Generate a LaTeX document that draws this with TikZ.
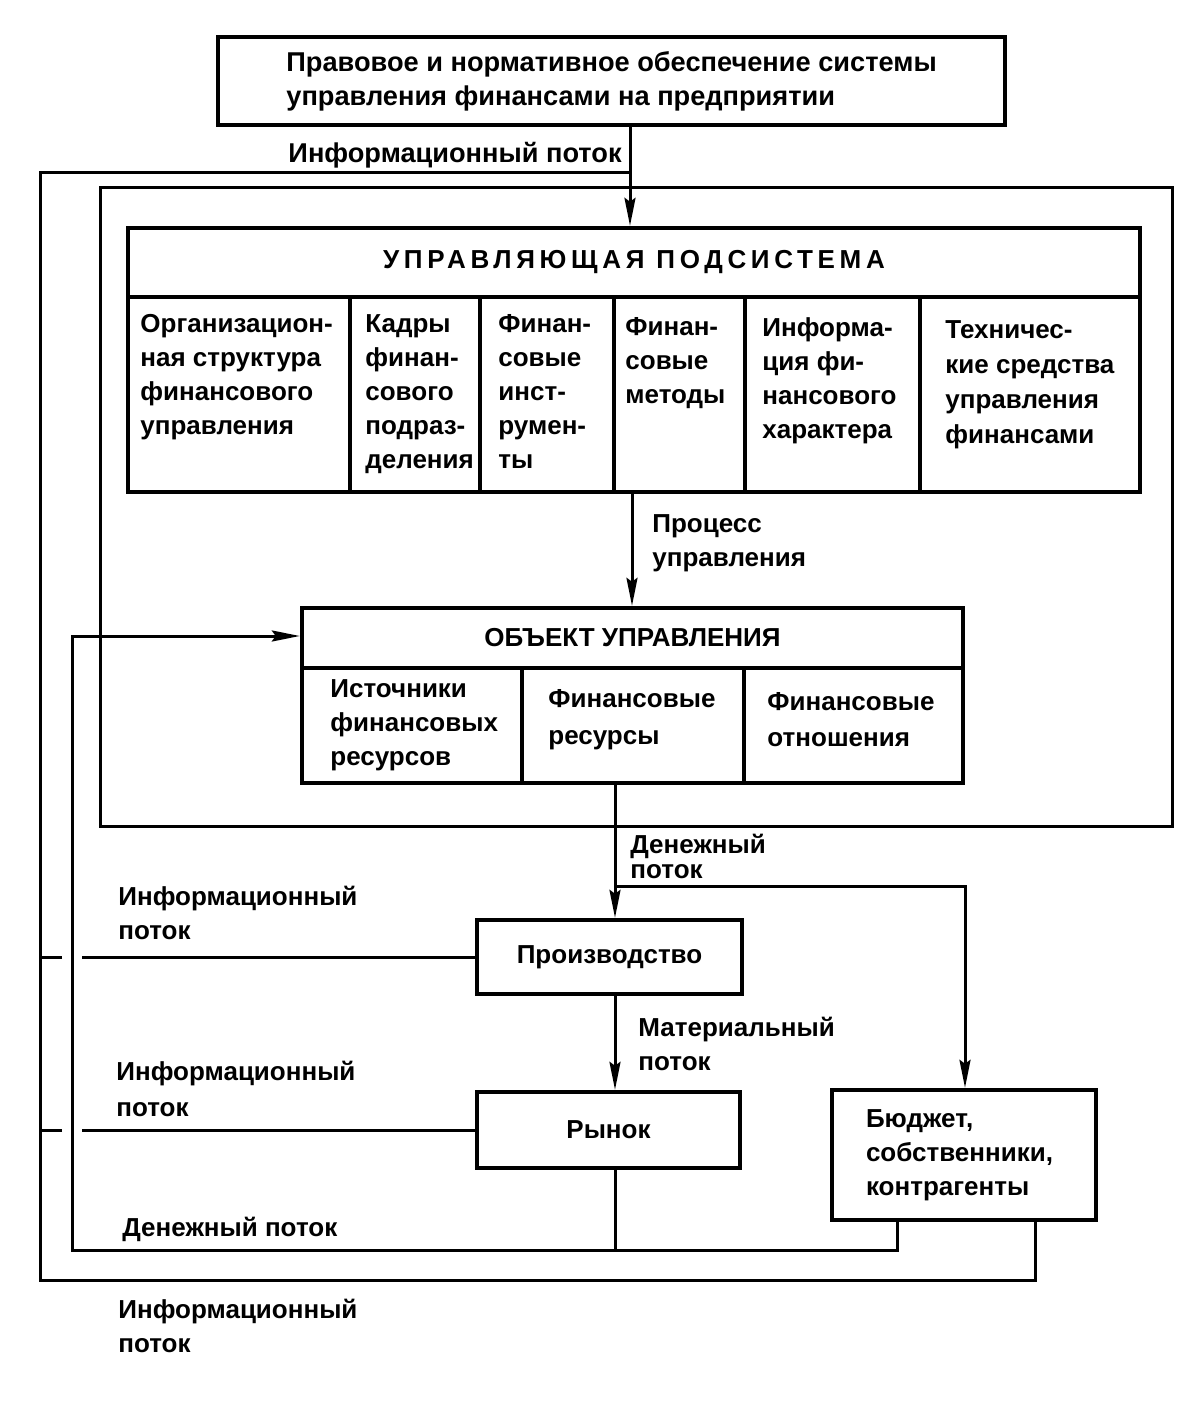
\documentclass[tikz,border=0pt]{standalone}
\usepackage{fontspec}
\setmainfont{Liberation Sans}
\usetikzlibrary{arrows.meta}
\begin{document}
\begin{tikzpicture}[x=0.5pt,y=-0.5pt,
  every node/.style={font=\bfseries\fontsize{13pt}{17pt}\selectfont},
  bx/.style={draw, line width=2.2pt, inner sep=0pt},
  txt/.style={inner sep=0pt, align=left, anchor=north west},
  tight/.style={font=\bfseries\fontsize{13pt}{12.5pt}\selectfont},
  ln/.style={line width=1.5pt},
  arr/.style={line width=1.5pt, -{Stealth[length=14pt,width=5.5pt,inset=2pt]}},
]
\useasboundingbox[fill=white] (0,0) rectangle (1194,1402);

% top box
\node[bx, minimum width={(1005-218)*0.5pt}, minimum height={(125-37)*0.5pt}, align=left,
  font=\bfseries\fontsize{13.6pt}{17pt}\selectfont]
  (top) at ({(218+1005)/2},{(37+125)/2})
  {Правовое и нормативное обеспечение системы\\управления финансами на предприятии};

% inner frame
\node[draw, line width=1.5pt, inner sep=0pt, minimum width={(1172-100)*0.5pt}, minimum height={(826-187)*0.5pt}]
  (frame) at ({(100+1172)/2},{(187+826)/2}) {};

% control subsystem
\node[bx, minimum width={(1140-128)*0.5pt}, minimum height={(297-228)*0.5pt},
  font=\bfseries\fontsize{13pt}{17pt}\selectfont\addfontfeature{LetterSpace=18}]
  (uhead) at ({(128+1140)/2},{(228+297)/2}) {УПРАВЛЯЮЩАЯ ПОДСИСТЕМА};
\node[bx, minimum width={(350-128)*0.5pt}, minimum height={(492-297)*0.5pt}] (c1) at ({(128+350)/2},{(297+492)/2}) {};
\node[bx, minimum width={(480-350)*0.5pt}, minimum height={(492-297)*0.5pt}] (c2) at ({(350+480)/2},{(297+492)/2}) {};
\node[bx, minimum width={(614-480)*0.5pt}, minimum height={(492-297)*0.5pt}] (c3) at ({(480+614)/2},{(297+492)/2}) {};
\node[bx, minimum width={(745-614)*0.5pt}, minimum height={(492-297)*0.5pt}] (c4) at ({(614+745)/2},{(297+492)/2}) {};
\node[bx, minimum width={(920-745)*0.5pt}, minimum height={(492-297)*0.5pt}] (c5) at ({(745+920)/2},{(297+492)/2}) {};
\node[bx, minimum width={(1140-920)*0.5pt}, minimum height={(492-297)*0.5pt}] (c6) at ({(920+1140)/2},{(297+492)/2}) {};

\node[txt] (c1t) at (140,314) {Организацион-\\ная структура\\финансового\\управления};
\node[txt] (c2t) at (365,314) {Кадры\\финан-\\сового\\подраз-\\деления};
\node[txt] (c3t) at (498,314) {Финан-\\совые\\инст-\\румен-\\ты};
\node[txt] (c4t) at (625,317) {Финан-\\совые\\методы};
\node[txt] (c5t) at (762,317) {Информа-\\ция фи-\\нансового\\характера};
\node[txt, font=\bfseries\fontsize{13pt}{17.5pt}\selectfont] (c6t) at (945,320) {Техничес-\\кие средства\\управления\\финансами};

% object
\node[bx, minimum width={(963-302)*0.5pt}, minimum height={(668-608)*0.5pt}]
  (ohead) at ({(302+963)/2},{(608+668)/2}) {ОБЪЕКТ УПРАВЛЕНИЯ};
\node[bx, minimum width={(522-302)*0.5pt}, minimum height={(783-668)*0.5pt}] (o1) at ({(302+522)/2},{(668+783)/2}) {};
\node[bx, minimum width={(744-522)*0.5pt}, minimum height={(783-668)*0.5pt}] (o2) at ({(522+744)/2},{(668+783)/2}) {};
\node[bx, minimum width={(963-744)*0.5pt}, minimum height={(783-668)*0.5pt}] (o3) at ({(744+963)/2},{(668+783)/2}) {};
\node[txt] (o1t) at (330,679) {Источники\\финансовых\\ресурсов};
\node[txt, font=\bfseries\fontsize{13pt}{18.5pt}\selectfont] (o2t) at (548,689) {Финансовые\\ресурсы};
\node[txt, font=\bfseries\fontsize{13pt}{18pt}\selectfont] (o3t) at (767,692) {Финансовые\\отношения};

% lower boxes
\node[bx, minimum width={(742-477)*0.5pt}, minimum height={(994-920)*0.5pt}]
  (prod) at ({(477+742)/2},{(920+994)/2}) {Производство};
\node[bx, minimum width={(740-477)*0.5pt}, minimum height={(1168-1092)*0.5pt}]
  (ryn) at ({(477+740)/2},{(1092+1168)/2}) {Рынок};
\node[bx, minimum width={(1096-832)*0.5pt}, minimum height={(1220-1090)*0.5pt},
  text width={(1096-832-68)*0.5pt}, inner xsep=17pt, align=left]
  (bud) at ({(832+1096)/2},{(1090+1220)/2}) {Бюджет,\\собственники,\\контрагенты};

% labels
\node[inner sep=0pt, anchor=north east, font=\bfseries\fontsize{13.6pt}{17pt}\selectfont] (linfo0) at (622,142) {Информационный поток};
\node[txt] (lproc) at (652,514) {Процесс\\управления};
\node[txt, tight] (lden1) at (630,834) {Денежный\\поток};
\node[txt] (lmat) at (638,1017) {Материальный\\поток};
\node[txt] (linf1) at (118,886) {Информационный\\поток};
\node[txt, font=\bfseries\fontsize{13pt}{18pt}\selectfont] (linf2) at (116,1061) {Информационный\\поток};
\node[txt] (lden2) at (122,1217) {Денежный поток};
\node[txt] (linf3) at (118,1299) {Информационный\\поток};

% coordinates
\coordinate (xA) at (630,0);
\coordinate (xB) at (632,0);
\coordinate (xC) at (615,0);
\coordinate (xD) at (965,0);
\coordinate (xE) at (897,0);
\coordinate (xF) at (1035,0);
\coordinate (g1) at (82,0);
\coordinate (g2) at (62,0);
\coordinate (jtop) at (630,172);
\coordinate (oL1) at (40,172);
\coordinate (oL2) at (40,1280);
\coordinate (jd) at (615,886);
\coordinate (m2) at (72,1250);
\coordinate (m3) at (72,636);

% connectors
\draw[arr] (top.south -| xA) -- (uhead.north -| xA);
\draw[ln] (jtop) -- (oL1) -- (oL2) -| (bud.south -| xF);
\draw[arr] (c4.south -| xB) -- (ohead.north -| xB);
\draw[arr] (o2.south -| xC) -- (prod.north -| xC);
\draw[arr] (jd) -| (bud.north -| xD);
\draw[arr] (prod.south -| xC) -- (ryn.north -| xC);
\draw[ln] (ryn.south -| xC) -- (m2 -| xC);
\draw[arr] (bud.south -| xE) |- (m2) -- (m3) -- (ohead.west |- m3);
\draw[ln] (prod.west) -- (prod.west -| g1);
\draw[ln] (prod.west -| g2) -- (prod.west -| oL1);
\draw[ln] (ryn.west) -- (ryn.west -| g1);
\draw[ln] (ryn.west -| g2) -- (ryn.west -| oL1);
\end{tikzpicture}
\end{document}
